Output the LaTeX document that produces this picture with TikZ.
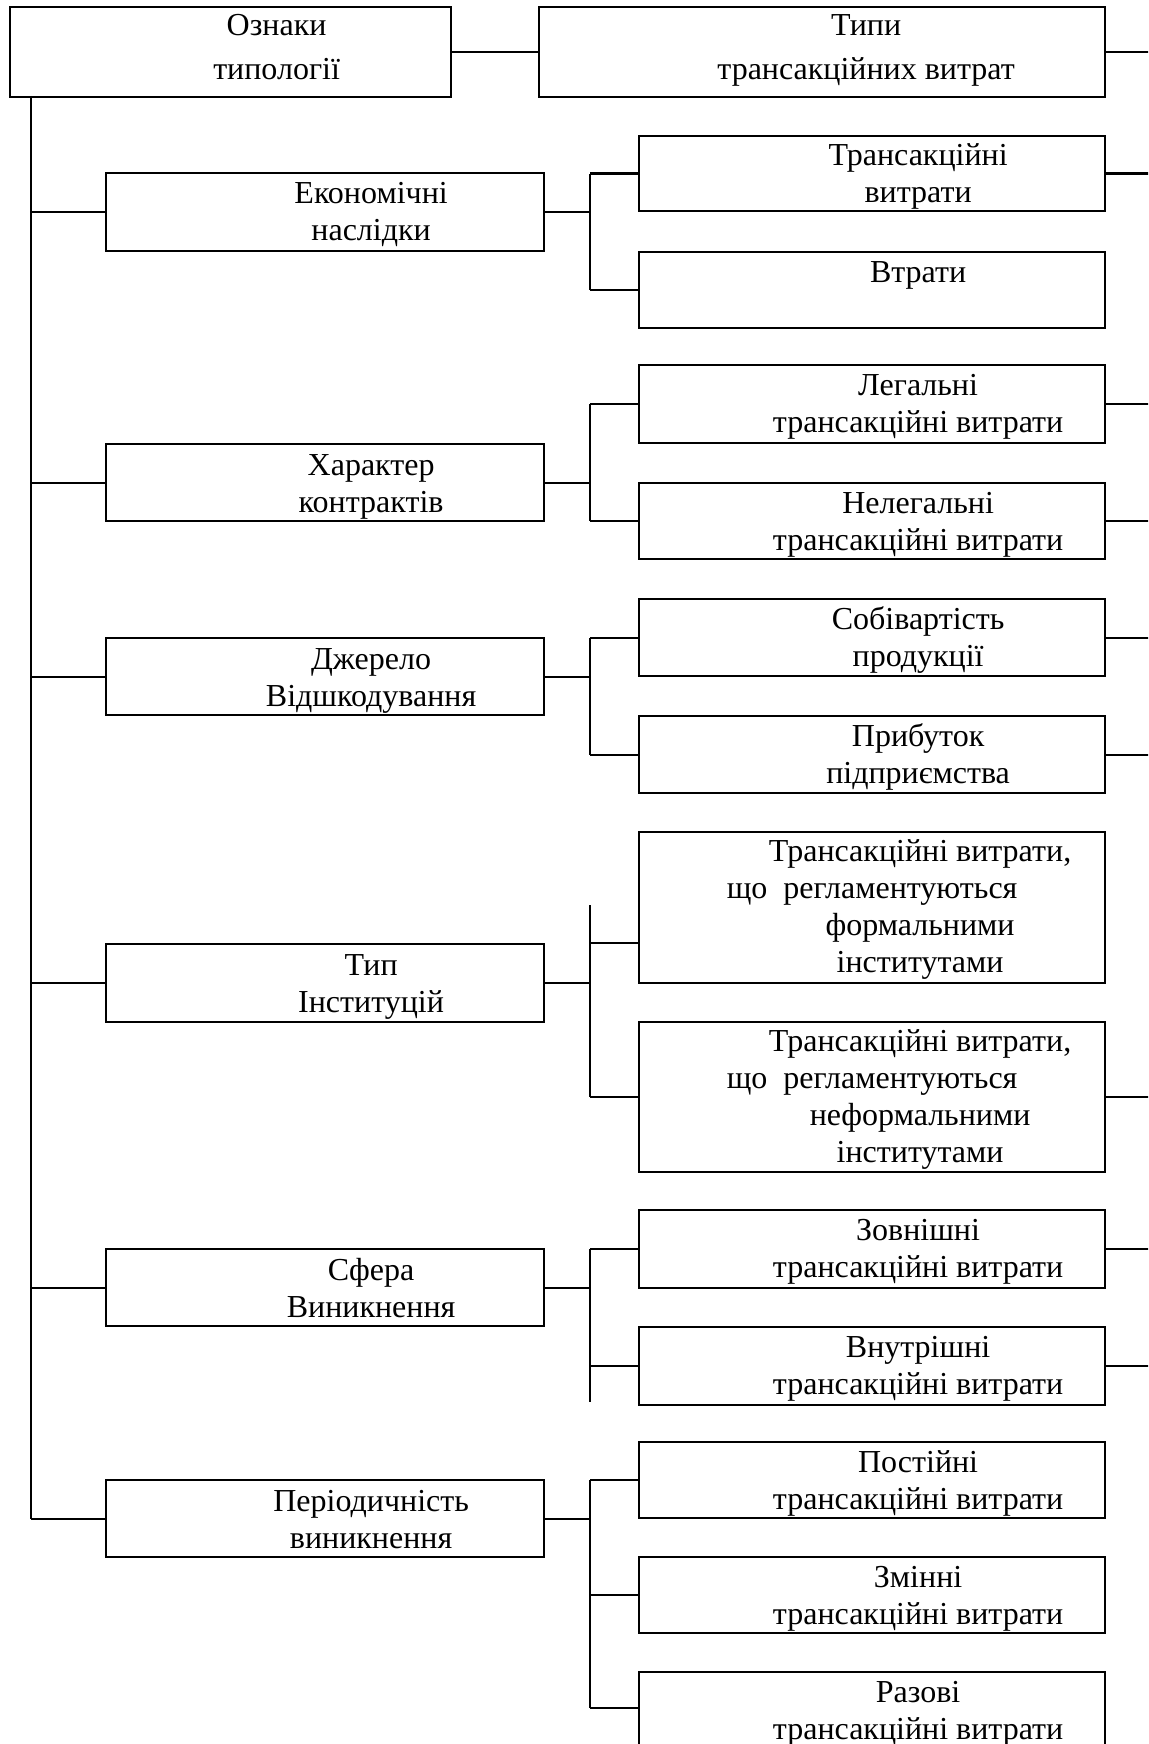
\documentclass[tikz,border=0pt]{standalone}
\usepackage{fontspec}
\setmainfont{Liberation Serif}
\begin{document}
\begin{tikzpicture}[x=1pt,y=-1pt,
  ln/.style={line width=2.2pt},
  boxbase/.style={draw,line width=2.2pt,anchor=north west,inner sep=0pt},
  lbox/.style={boxbase,minimum width=438pt,minimum height=#1},
  lbox/.default=78pt,
  rbox/.style={boxbase,minimum width=466pt,minimum height=#1},
  rbox/.default=77pt,
  txt/.style={font=\fontsize{32}{37}\selectfont,align=center,anchor=base,inner sep=0pt}]
\useasboundingbox (0,0) rectangle (1148,1744);
\clip (0,0) rectangle (1148,1744);
\fill[white] (0,0) rectangle (1148,1744);
% top row
\node[boxbase,minimum width=441pt,minimum height=90pt] (T1) at (9,6) {};
\node[boxbase,minimum width=566pt,minimum height=90pt] (T2) at (538,6) {};
\node[txt] (tT1) at ([xshift=46pt,yshift=-74pt]T1.north) {Ознаки\\[7pt]типології};
\node[txt] (tT2) at ([xshift=44pt,yshift=-74pt]T2.north) {Типи\\[7pt]трансакційних витрат};
% left column
\node[lbox] (L1) at (105,172) {};
\node[lbox=77pt] (L2) at (105,443) {};
\node[lbox=77pt] (L3) at (105,637) {};
\node[lbox] (L4) at (105,943) {};
\node[lbox=77pt] (L5) at (105,1248) {};
\node[lbox=77pt] (L6) at (105,1479) {};
\node[txt] (tL1) at ([xshift=46pt,yshift=-69pt]L1.north) {Економічні\\наслідки};
\node[txt] (tL2) at ([xshift=46pt,yshift=-69pt]L2.north) {Характер\\контрактів};
\node[txt] (tL3) at ([xshift=46pt,yshift=-69pt]L3.north) {Джерело\\Відшкодування};
\node[txt] (tL4) at ([xshift=46pt,yshift=-69pt]L4.north) {Тип\\Інституцій};
\node[txt] (tL5) at ([xshift=46pt,yshift=-69pt]L5.north) {Сфера\\Виникнення};
\node[txt] (tL6) at ([xshift=46pt,yshift=-69pt]L6.north) {Періодичність\\виникнення};
% right column
\node[rbox=75pt] (R1) at (638,135) {};
\node[rbox=76pt] (R2) at (638,251) {};
\node[rbox=78pt] (R3) at (638,364) {};
\node[rbox=76pt] (R4) at (638,482) {};
\node[rbox] (R5) at (638,598) {};
\node[rbox] (R6) at (638,715) {};
\node[rbox=151pt] (R7) at (638,831) {};
\node[rbox=150pt] (R8) at (638,1021) {};
\node[rbox=78pt] (R9) at (638,1209) {};
\node[rbox=78pt] (R10) at (638,1326) {};
\node[rbox=76pt] (R11) at (638,1441) {};
\node[rbox=76pt] (R12) at (638,1556) {};
\node[rbox=80pt] (R13) at (638,1671) {};
\node[txt] (tR1) at ([xshift=46pt,yshift=-68pt]R1.north) {Трансакційні\\витрати};
\node[txt] (tR2) at ([xshift=46pt,yshift=-31pt]R2.north) {Втрати};
\node[txt] (tR3) at ([xshift=46pt,yshift=-68pt]R3.north) {Легальні\\трансакційні витрати};
\node[txt] (tR4) at ([xshift=46pt,yshift=-68pt]R4.north) {Нелегальні\\трансакційні витрати};
\node[txt] (tR5) at ([xshift=46pt,yshift=-68pt]R5.north) {Собівартість\\продукції};
\node[txt] (tR6) at ([xshift=46pt,yshift=-68pt]R6.north) {Прибуток\\підприємства};
\node[txt] (tR7) at ([xshift=48pt,yshift=-141pt]R7.north) {Трансакційні витрати,\\\mbox{що\ \ регламентуються\hspace{96pt}}\\формальними\\інститутами};
\node[txt] (tR8) at ([xshift=48pt,yshift=-141pt]R8.north) {Трансакційні витрати,\\\mbox{що\ \ регламентуються\hspace{96pt}}\\неформальними\\інститутами};
\node[txt] (tR9) at ([xshift=46pt,yshift=-68pt]R9.north) {Зовнішні\\трансакційні витрати};
\node[txt] (tR10) at ([xshift=46pt,yshift=-68pt]R10.north) {Внутрішні\\трансакційні витрати};
\node[txt] (tR11) at ([xshift=46pt,yshift=-68pt]R11.north) {Постійні\\трансакційні витрати};
\node[txt] (tR12) at ([xshift=46pt,yshift=-68pt]R12.north) {Змінні\\трансакційні витрати};
\node[txt] (tR13) at ([xshift=46pt,yshift=-68pt]R13.north) {Разові\\трансакційні витрати};
% helper coordinates
\coordinate (edge) at (1150,0);
\coordinate (bus) at (590,0);
\coordinate (tt) at (31,96);
\coordinate (b7) at (638,943);
\coordinate (b13) at (638,1708);
\coordinate (tipTop) at (590,905);
\coordinate (sfBot) at (590,1402);
% connectors
\draw[ln] (T1.east) -- (T2.west);
\draw[ln] (tt) -- (tt |- L6.west);
\foreach \n in {L1,L2,L3,L4,L5,L6} {
  \draw[ln] (tt |- \n.west) -- (\n.west);
  \draw[ln] (\n.east) -- (\n.east -| bus);
}
\foreach \n in {T2,R1,R3,R4,R5,R6,R8,R9,R10} {
  \draw[ln] (\n.east) -- (\n.east -| edge);
}
\foreach \n in {R1,R2,R3,R4,R5,R6,R8,R9,R10,R11,R12} {
  \draw[ln] (\n.west -| bus) -- (\n.west);
}
\draw[ln] (b7 -| bus) -- (b7);
\draw[ln] (b13 -| bus) -- (b13);
\draw[ln] (R1.west -| bus) -- (R2.west -| bus);
\draw[ln] (R3.west -| bus) -- (R4.west -| bus);
\draw[ln] (R5.west -| bus) -- (R6.west -| bus);
\draw[ln] (tipTop) -- (R8.west -| bus);
\draw[ln] (R9.west -| bus) -- (sfBot);
\draw[ln] (R11.west -| bus) -- (b13 -| bus);
\end{tikzpicture}
\end{document}
